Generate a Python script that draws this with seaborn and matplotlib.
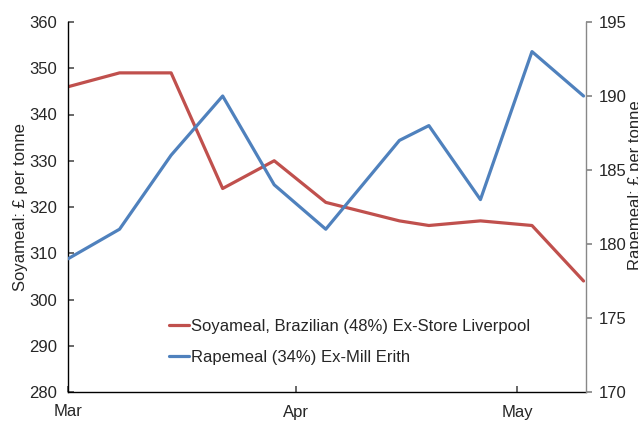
import pandas as pd
import matplotlib
matplotlib.use("Agg")
import matplotlib.pyplot as plt
import matplotlib.dates as mdates
import seaborn as sns

# data
dates = ["2013-03-01", "2013-03-08", "2013-03-15", "2013-03-22", "2013-03-29",
         "2013-04-05", "2013-04-15", "2013-04-19", "2013-04-26", "2013-05-03",
         "2013-05-10"]
soyameal = [346, 349, 349, 324, 330, 321, 317, 316, 317, 316, 304]
rapemeal = [179, 181, 186, 190, 184, 181, 187, 188, 183, 193, 190]

soy_label = "Soyameal, Brazilian (48%) Ex-Store Liverpool"
rape_label = "Rapemeal (34%) Ex-Mill Erith"

df = pd.DataFrame({"date": pd.to_datetime(dates), "soy": soyameal, "rape": rapemeal})

sns.set_theme(style="white")
plt.rcParams["font.family"] = ["Liberation Sans", "DejaVu Sans"]

red = "#C0504D"
blue = "#4F81BD"

fig = plt.figure(figsize=(6.38, 4.21), dpi=100)
ax = fig.add_axes([68 / 638, 1 - 392 / 421, 518 / 638, 370 / 421])
ax2 = ax.twinx()

sns.lineplot(data=df, x="date", y="soy", ax=ax, color=red, linewidth=2.3, label=soy_label, legend=False)
sns.lineplot(data=df, x="date", y="rape", ax=ax2, color=blue, linewidth=2.3, label=rape_label, legend=False)

ax.set_xlim(pd.Timestamp("2013-03-01"), pd.Timestamp("2013-05-10 08:00"))
ax.set_ylim(280, 360)
ax2.set_ylim(170, 195)
ax.set_yticks(range(280, 361, 10))
ax2.set_yticks(range(170, 196, 5))

ax.xaxis.set_major_locator(mdates.MonthLocator())
ax.xaxis.set_major_formatter(mdates.DateFormatter("%b"))

for a in (ax, ax2):
    a.set_facecolor("none")
    for s in a.spines.values():
        s.set_visible(False)

ax.spines["left"].set_visible(True)
ax.spines["bottom"].set_visible(True)
ax.spines["left"].set_color("black")
ax.spines["bottom"].set_color("black")
ax.spines["left"].set_linewidth(1.0)
ax.spines["bottom"].set_linewidth(1.0)
ax2.spines["right"].set_visible(True)
ax2.spines["right"].set_color("#888888")
ax2.spines["right"].set_linewidth(1.0)

ax.tick_params(axis="y", direction="in", length=4, color="#555555", labelsize=12, pad=8, left=True)
ax.tick_params(axis="x", direction="in", length=4, color="#555555", labelsize=12, pad=9, bottom=True)
ax2.tick_params(axis="y", direction="out", length=4, color="#888888", labelsize=12, pad=5, right=True)

ax.set_xlabel("")
ax.set_ylabel("Soyameal: £ per tonne", fontsize=12)
ax.yaxis.set_label_coords(-0.078, 0.5)
ax2.set_ylabel("Rapemeal: £ per tonne", fontsize=12)
ax2.yaxis.set_label_coords(1.081, 0.56)

h1, l1 = ax.get_legend_handles_labels()
h2, l2 = ax2.get_legend_handles_labels()
ax.legend(h1 + h2, l1 + l2, loc="center left", bbox_to_anchor=(0.183, 0.135),
          frameon=False, fontsize=12, handlelength=1.2, handletextpad=0.1,
          labelspacing=0.95, borderaxespad=0)

fig.savefig("out.png", dpi=100)
